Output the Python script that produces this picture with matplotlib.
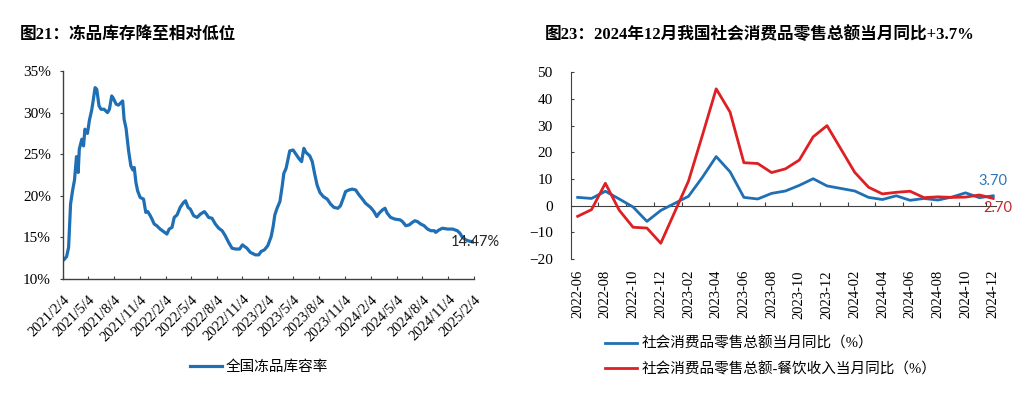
import pandas as pd
import numpy as np
import matplotlib
matplotlib.use("Agg")
import matplotlib.pyplot as plt

plt.rcParams['font.family'] = ['Liberation Serif', 'Noto Sans CJK SC', 'DejaVu Sans']

# ---- left chart: national frozen-goods storage utilisation (%) ----
stock_dates = [
    "2021-02-04", "2021-02-11", "2021-02-18", "2021-02-25", "2021-03-04", "2021-03-11",
    "2021-03-18", "2021-03-25", "2021-03-31", "2021-04-04", "2021-04-13", "2021-04-19",
    "2021-04-24", "2021-05-03", "2021-05-10", "2021-05-18", "2021-05-24", "2021-05-30",
    "2021-06-05", "2021-06-13", "2021-06-20", "2021-07-01", "2021-07-13", "2021-07-20",
    "2021-07-28", "2021-08-03", "2021-08-13", "2021-08-21", "2021-09-05", "2021-09-10",
    "2021-09-17", "2021-09-26", "2021-10-04", "2021-10-11", "2021-10-16", "2021-10-22",
    "2021-10-28", "2021-11-06", "2021-11-18", "2021-11-26", "2021-12-03", "2021-12-12",
    "2021-12-18", "2021-12-26", "2022-01-04", "2022-01-16", "2022-01-28", "2022-02-09",
    "2022-02-17", "2022-02-27", "2022-03-07", "2022-03-17", "2022-03-28", "2022-04-09",
    "2022-04-16", "2022-04-25", "2022-05-03", "2022-05-15", "2022-05-27", "2022-06-08",
    "2022-06-22", "2022-06-29", "2022-07-07", "2022-07-19", "2022-07-31", "2022-08-12",
    "2022-08-24", "2022-09-04", "2022-09-16", "2022-09-28", "2022-10-10", "2022-10-25",
    "2022-11-04", "2022-11-20", "2022-12-02", "2022-12-20", "2023-01-01", "2023-01-09",
    "2023-01-21", "2023-02-02", "2023-02-14", "2023-02-21", "2023-02-27", "2023-03-07",
    "2023-03-17", "2023-03-25", "2023-03-31", "2023-04-08", "2023-04-14", "2023-04-21",
    "2023-05-03", "2023-05-11", "2023-05-23", "2023-06-02", "2023-06-10", "2023-06-18",
    "2023-07-01", "2023-07-10", "2023-07-18", "2023-07-27", "2023-08-06", "2023-08-18",
    "2023-09-01", "2023-09-13", "2023-09-25", "2023-10-09", "2023-10-18", "2023-10-28",
    "2023-11-05", "2023-11-17", "2023-11-29", "2023-12-11", "2023-12-23", "2024-01-04",
    "2024-01-15", "2024-02-02", "2024-02-14", "2024-02-24", "2024-03-03", "2024-03-15",
    "2024-03-24", "2024-04-01", "2024-04-13", "2024-04-28", "2024-05-17", "2024-05-25",
    "2024-06-06", "2024-06-18", "2024-06-29", "2024-07-08", "2024-07-17", "2024-07-29",
    "2024-08-10", "2024-08-22", "2024-09-03", "2024-09-15", "2024-09-20", "2024-10-02",
    "2024-10-14", "2024-11-01", "2024-11-19", "2024-12-06", "2024-12-15", "2024-12-24",
    "2025-01-05", "2025-01-17", "2025-01-29",
]
stock_rate = [
    12.2, 12.4, 12.7, 13.8, 19.0, 20.6,
    21.9, 24.7, 22.8, 25.6, 26.8, 26.0,
    28.0, 27.5, 29.1, 30.3, 31.6, 33.0,
    32.8, 30.8, 30.4, 30.4, 30.0, 30.4,
    32.0, 31.7, 31.0, 30.9, 31.4, 29.2,
    28.1, 25.4, 23.6, 23.1, 23.4, 21.6,
    20.6, 19.8, 19.6, 18.0, 18.1, 17.6,
    17.2, 16.6, 16.4, 16.0, 15.7, 15.4,
    16.0, 16.2, 17.4, 17.7, 18.6, 19.2,
    19.4, 18.6, 18.4, 17.6, 17.4, 17.8,
    18.1, 17.8, 17.4, 17.3, 16.6, 16.1,
    15.8, 15.2, 14.4, 13.7, 13.6, 13.6,
    14.1, 13.7, 13.2, 12.9, 12.9, 13.3,
    13.5, 14.0, 15.1, 16.3, 17.7, 18.5,
    19.3, 21.1, 22.7, 23.3, 24.3, 25.4,
    25.5, 25.1, 24.5, 24.1, 25.7, 25.2,
    24.8, 24.1, 22.7, 21.3, 20.4, 19.9,
    19.6, 19.0, 18.6, 18.5, 18.8, 19.7,
    20.5, 20.7, 20.8, 20.7, 20.1, 19.6,
    19.1, 18.6, 18.1, 17.5, 17.9, 18.3,
    18.5, 17.9, 17.4, 17.2, 17.1, 16.9,
    16.4, 16.5, 16.8, 17.0, 16.9, 16.6,
    16.4, 16.0, 15.8, 15.8, 15.6, 15.9,
    16.1, 16.0, 16.0, 15.8, 15.5, 15.0,
    14.7, 14.55, 14.47,
]
stock_ticks = ["2021-02-04", "2021-05-04", "2021-08-04", "2021-11-04", "2022-02-04",
               "2022-05-04", "2022-08-04", "2022-11-04", "2023-02-04", "2023-05-04",
               "2023-08-04", "2023-11-04", "2024-02-04", "2024-05-04", "2024-08-04",
               "2024-11-04", "2025-02-04"]

# ---- right chart: retail sales yoy (%) ----
months = ["2022-06", "2022-07", "2022-08", "2022-09", "2022-10", "2022-11", "2022-12",
          "2023-02", "2023-03", "2023-04", "2023-05", "2023-06", "2023-07", "2023-08",
          "2023-09", "2023-10", "2023-11", "2023-12", "2024-02", "2024-03", "2024-04",
          "2024-05", "2024-06", "2024-07", "2024-08", "2024-09", "2024-10", "2024-11",
          "2024-12"]
retail_yoy = [3.1, 2.7, 5.4, 2.5, -0.5, -5.9, -1.8,
              3.5, 10.6, 18.4, 12.7, 3.1, 2.5, 4.6,
              5.5, 7.6, 10.1, 7.4, 5.5, 3.1, 2.3,
              3.7, 2.0, 2.7, 2.1, 3.2, 4.8, 3.0,
              3.7]
catering_yoy = [-4.0, -1.5, 8.4, -1.7, -8.1, -8.4, -14.1,
                9.2, 26.3, 43.8, 35.1, 16.1, 15.8, 12.4,
                13.8, 17.1, 25.8, 30.0, 12.5, 6.9, 4.4,
                5.0, 5.4, 3.0, 3.3, 3.1, 3.2, 4.0,
                2.7]
month_ticks = ["2022-06", "2022-08", "2022-10", "2022-12", "2023-02", "2023-04",
               "2023-06", "2023-08", "2023-10", "2023-12", "2024-02", "2024-04",
               "2024-06", "2024-08", "2024-10", "2024-12"]

BLUE = '#1F6FB5'
RED = '#DE1F24'
AXC = '#404040'
CJK = ['Liberation Serif', 'Noto Sans CJK SC']

fig = plt.figure(figsize=(10.36, 3.99), dpi=100)

# left
ax1 = fig.add_axes([0.0605, 0.3008, 0.3973, 0.5213])
sd = pd.to_datetime(stock_dates)
ax1.plot(sd, stock_rate, color=BLUE, lw=2.3, solid_joinstyle='round')
ax1.set_ylim(10, 35)
ax1.set_yticks(np.arange(10, 36, 5))
ax1.set_yticklabels([f"{v}%" for v in range(10, 36, 5)])
td = pd.to_datetime(stock_ticks)
ax1.set_xlim(td[0], td[-1])
ax1.set_xticks(td)
ax1.set_xticklabels([f"{d.year}/{d.month}/{d.day}" for d in td], rotation=45,
                    ha='right', va='top', rotation_mode='anchor')
for s in ['top', 'right']:
    ax1.spines[s].set_visible(False)
for s in ['left', 'bottom']:
    ax1.spines[s].set_color(AXC)
    ax1.spines[s].set_linewidth(1.0)
ax1.tick_params(axis='y', direction='out', length=2.5, color=AXC, labelsize=11, pad=6)
ax1.tick_params(axis='x', direction='in', length=2.5, color=AXC, labelsize=10.5, pad=10)
ax1.annotate(f"{stock_rate[-1]:.2f}%", xy=(sd[-1], stock_rate[-1]), xytext=(-16, 0),
             textcoords='offset points', ha='left', va='center',
             fontsize=10.5, family='Lato', color='#262626')
fig.legend(handles=ax1.get_lines(), labels=['全国冻品库容率'], loc='center',
           bbox_to_anchor=(0.25, 0.080), frameon=False, prop={'family': CJK, 'size': 10.5},
           handlelength=2.2, handletextpad=0.3, borderpad=0)

# right
ax2 = fig.add_axes([0.5509, 0.3509, 0.4105, 0.4679])
base = pd.Period("2022-06", "M")
mpos = np.array([(pd.Period(m, "M") - base).n for m in months])
tpos = np.array([(pd.Period(m, "M") - base).n for m in month_ticks])
l1, = ax2.plot(mpos, retail_yoy, color=BLUE, lw=2.0)
l2, = ax2.plot(mpos, catering_yoy, color=RED, lw=2.0)
ax2.set_ylim(-20, 50)
ax2.set_yticks(np.arange(-20, 51, 10))
ax2.set_xlim(-0.5, 30.2)
ax2.set_xticks(tpos)
ax2.set_xticklabels(month_ticks, rotation=90, va='top', ha='center')
for s in ['top', 'right', 'bottom']:
    ax2.spines[s].set_visible(False)
ax2.spines['left'].set_color(AXC)
ax2.tick_params(axis='y', direction='in', length=2.5, color=AXC, labelsize=11, pad=13)
ax2.tick_params(axis='x', length=0, labelsize=10.5, pad=8)
ymin, ymax = ax2.get_ylim()
zero_ax = ax2.secondary_xaxis((0 - ymin) / (ymax - ymin))
zero_ax.set_xticks(tpos[1:] - 0.5)
zero_ax.tick_params(direction='in', length=3, color=AXC, labelbottom=False)
zero_ax.spines['bottom'].set_color(AXC)
ax2.annotate(f"{retail_yoy[-1]:.2f}", xy=(mpos[-1], retail_yoy[-1]), xytext=(0, 11),
             textcoords='offset points', ha='center', va='center',
             fontsize=10.5, family='Lato', color='#2E75B6')
ax2.annotate(f"{catering_yoy[-1]:.2f}", xy=(mpos[-1], catering_yoy[-1]), xytext=(3.5, -7),
             textcoords='offset points', ha='center', va='center',
             fontsize=10.5, family='Lato', color='#C0282D')
fig.legend(handles=[l1, l2],
           labels=['社会消费品零售总额当月同比（%）', '社会消费品零售总额-餐饮收入当月同比（%）'],
           loc='center left', bbox_to_anchor=(605 / 1036, 0.1065), frameon=False,
           prop={'family': CJK, 'size': 10.5}, handlelength=2.2, handletextpad=0.3,
           labelspacing=0.75, borderpad=0, borderaxespad=0)

# titles
fig.text(20 / 1036, 1 - 35 / 399, "图21：冻品库存降至相对低位", fontsize=12,
         fontweight='bold', family=CJK, va='center', ha='left')
fig.text(545 / 1036, 1 - 35 / 399, "图23：2024年12月我国社会消费品零售总额当月同比+3.7%",
         fontsize=12, fontweight='bold', family=CJK, va='center', ha='left')

fig.savefig("out.png", dpi=100)
